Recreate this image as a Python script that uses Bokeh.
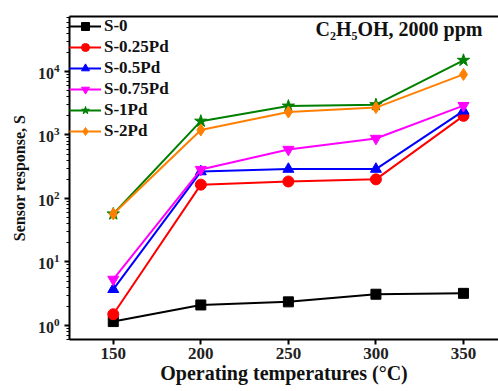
from bokeh.plotting import figure
from bokeh.models import Range1d, LinearAxis, Legend, LegendItem, Label, FixedTicker
from bokeh.embed import file_html
from bokeh.resources import INLINE

temps = [150, 200, 250, 300, 350]
s0 = [1.15, 2.1, 2.35, 3.1, 3.2]
s025 = [1.5, 165, 185, 200, 2000]
s05 = [3.7, 265, 290, 290, 2400]
s075 = [5.3, 285, 590, 880, 2900]
s1 = [57, 1650, 2850, 3000, 15000]
s2 = [57, 1200, 2300, 2700, 9000]
names = ["S-0", "S-0.25Pd", "S-0.5Pd", "S-0.75Pd", "S-1Pd", "S-2Pd"]
x_ticks = [150, 200, 250, 300, 350]

series = [s0, s025, s05, s075, s1, s2]
colors = ["#000000", "#FF0000", "#0000FF", "#FF00FF", "#008000", "#FF8000"]
markers = ["square", "circle", "triangle", "inverted_triangle", "star", "diamond"]
sizes = [10, 11, 11, 11, 13, 12]

FONT = "Liberation Serif"
TXT = "#111111"

p = figure(width=498, height=391, x_range=Range1d(125, 370), y_range=Range1d(0.6, 7.35e4),
           y_axis_type="log", output_backend="svg", toolbar_location=None,
           min_border_left=69, min_border_top=16, min_border_bottom=52, min_border_right=0)
p.outline_line_color = None
p.grid.visible = False
p.background_fill_color = "white"

items = []
for vals, c, m, s, n in zip(series, colors, markers, sizes, names):
    r1 = p.line(temps, vals, line_color=c, line_width=2)
    r2 = p.scatter(temps, vals, marker=m, size=s, fill_color=c, line_color=c)
    items.append(LegendItem(label=n, renderers=[r1, r2]))

leg = Legend(items=items, location="top_left", border_line_color=None, background_fill_alpha=0,
             label_text_font=FONT, label_text_font_style="bold", label_text_font_size="17px",
             label_text_color=TXT, label_height=20,
             glyph_width=32, glyph_height=20, spacing=1, padding=4, margin=0, label_standoff=3)
p.add_layout(leg)

xa = p.xaxis[0]
xa.ticker = FixedTicker(ticks=x_ticks)
ya = p.yaxis[0]
xa.axis_label = "Operating temperatures (°C)"
ya.axis_label = "Sensor response, S"
for ax in (xa, ya):
    ax.axis_line_width = 2
    ax.major_tick_line_width = 2
    ax.minor_tick_line_width = 1
    ax.major_tick_out = 5
    ax.major_tick_in = 0
    ax.minor_tick_out = 3
    ax.minor_tick_in = 0
    ax.major_label_text_font = FONT
    ax.major_label_text_font_style = "bold"
    ax.major_label_text_color = "#222222"
    ax.axis_label_text_font = FONT
    ax.axis_label_text_font_style = "bold"
    ax.axis_label_text_color = TXT
xa.major_label_text_font_size = "17px"
ya.major_label_text_font_size = "16px"
xa.axis_label_text_font_size = "20px"
ya.axis_label_text_font_size = "16px"
xa.major_label_standoff = 3
ya.major_label_standoff = 5
xa.axis_label_standoff = 0
ya.axis_label_standoff = 7

top = LinearAxis(ticker=FixedTicker(ticks=[]), axis_line_width=2, major_tick_line_color=None,
                 minor_tick_line_color=None)
p.add_layout(top, "above")

p.add_layout(Label(x=246, y=300, x_units="screen", y_units="screen", text="C₂H₅OH, 2000 ppm",
                   text_font=FONT, text_font_style="bold", text_font_size="20px",
                   text_color=TXT))

open("out.html", "w").write(file_html(p, INLINE))
